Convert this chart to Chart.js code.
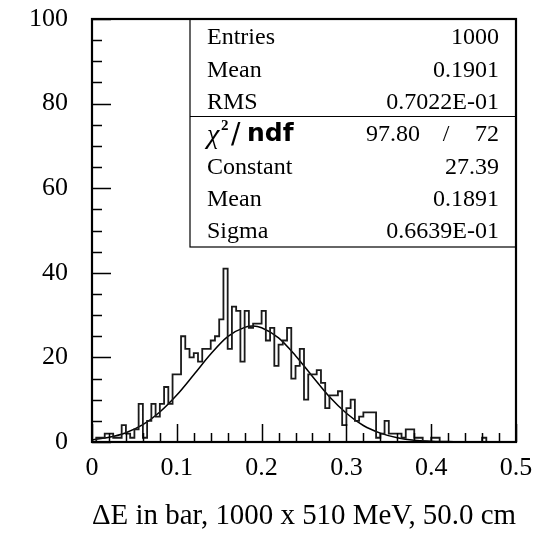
<!DOCTYPE html>
<html>
<head>
<meta charset="utf-8">
<script src="https://cdn.jsdelivr.net/npm/chart.js@4.4.1/dist/chart.umd.min.js"></script>
<style>
  html, body { margin: 0; padding: 0; background: #fff; }
  #chart { display: block; background: #fff; }
</style>
</head>
<body>
<canvas id="chart" width="535" height="535"></canvas>
<script>
// histogram: 100 bins of 0.005 between 0 and 0.5
const binStart = 0;
const binWidth = 0.005;
const binCounts = [
  0, 1, 1, 2, 2, 1, 1, 4, 2, 1,
  3, 9, 1, 5, 9, 6, 9, 13, 9, 16,
  16, 25, 22, 20, 21, 19, 22, 22, 24, 25,
  29, 41, 22, 32, 31, 19, 31, 27, 28, 28,
  31, 24, 27, 18, 23, 24, 27, 15, 18, 22,
  10, 16, 16, 17, 14, 8, 11, 11, 12, 4,
  8, 10, 5, 6, 7, 7, 7, 1, 2, 5,
  2, 2, 2, 1, 3, 3, 1, 1, 0, 0,
  1, 1, 0, 0, 0, 0, 0, 0, 0, 0,
  0, 0, 1, 0, 0, 0, 0, 0, 0, 0
];

// gaussian fit curve
const fitX = [0, 0.02, 0.04, 0.06, 0.08, 0.10, 0.12, 0.14, 0.16, 0.18, 0.19, 0.20, 0.22,
              0.24, 0.26, 0.28, 0.30, 0.32, 0.34, 0.36, 0.38, 0.40, 0.42, 0.44, 0.46, 0.48, 0.50];
const fitY = [0.5, 1.1, 2.2, 4.1, 7.1, 11.1, 15.9, 20.8, 24.9, 27.1, 27.4, 27.0, 24.6,
              20.4, 15.5, 10.7, 6.8, 3.9, 2.1, 1.0, 0.4, 0.2, 0.1, 0, 0, 0, 0];

const xTickValues = [0, 0.1, 0.2, 0.3, 0.4, 0.5];
const xTickLabels = ['0', '0.1', '0.2', '0.3', '0.4', '0.5'];
const yTickValues = [0, 20, 40, 60, 80, 100];
const yTickLabels = ['0', '20', '40', '60', '80', '100'];
const xTitle = 'ΔE in bar, 1000 x 510 MeV, 50.0 cm';

// stats box
const statNames = ['Entries', 'Mean', 'RMS'];
const statValues = ['1000', '0.1901', '0.7022E-01'];
const chi2 = '97.80';
const ndf = '72';
const fitNames = ['Constant', 'Mean', 'Sigma'];
const fitValues = ['27.39', '0.1891', '0.6639E-01'];

const serif = "'Liberation Serif', 'Times New Roman', serif";

// one point per bin low edge, plus the closing upper edge
const histPoints = binCounts.map((c, i) => ({ x: binStart + i * binWidth, y: c }));
histPoints.push({ x: binStart + binCounts.length * binWidth, y: binCounts[binCounts.length - 1] });
const fitPoints = fitX.map((x, i) => ({ x: x, y: fitY[i] }));

// ROOT style frame, inward ticks and the stats panel
const rootFrame = {
  id: 'rootFrame',
  afterDatasetsDraw(chart) {
    const { ctx, chartArea: a, scales: { x, y } } = chart;
    ctx.save();
    ctx.strokeStyle = '#000';
    ctx.lineWidth = 1.5;
    ctx.beginPath();
    for (let v = 0; v <= 100; v += 5) {
      const py = Math.round(y.getPixelForValue(v)) + 0.5;
      const len = v % 20 === 0 ? 19 : 10;
      ctx.moveTo(a.left, py);
      ctx.lineTo(a.left + len, py);
    }
    for (let i = 0; i <= 25; i++) {
      const px = Math.round(x.getPixelForValue(i * 0.02)) + 0.5;
      const len = i % 5 === 0 ? 18 : 9;
      ctx.moveTo(px, a.bottom);
      ctx.lineTo(px, a.bottom - len);
    }
    ctx.stroke();

    // stats box
    const bl = 190, bt = a.top, br = a.right, bb = 247;
    ctx.fillStyle = '#fff';
    ctx.fillRect(bl, bt, br - bl, bb - bt);
    ctx.lineWidth = 1.2;
    ctx.strokeRect(bl, bt, br - bl, bb - bt);
    ctx.beginPath();
    ctx.moveTo(bl, 116.5);
    ctx.lineTo(br, 116.5);
    ctx.stroke();

    const lx = 207, rx = 499, row = 32.3, base0 = 44.4;
    ctx.fillStyle = '#000';
    ctx.font = '24px ' + serif;
    ctx.textBaseline = 'alphabetic';
    statNames.forEach((n, i) => {
      ctx.textAlign = 'left';
      ctx.fillText(n, lx, base0 + i * row);
      ctx.textAlign = 'right';
      ctx.fillText(statValues[i], rx, base0 + i * row);
    });
    fitNames.forEach((n, i) => {
      const by = base0 + (i + 4) * row;
      ctx.textAlign = 'left';
      ctx.fillText(n, lx, by);
      ctx.textAlign = 'right';
      ctx.fillText(fitValues[i], rx, by);
    });

    // chi2 / ndf row
    const cy = base0 + 3 * row;
    ctx.textAlign = 'left';
    ctx.font = 'italic 28px ' + serif;
    ctx.fillText('χ', lx, cy + 2);
    ctx.font = 'bold 15px ' + serif;
    ctx.fillText('2', 221, cy - 11);
    ctx.font = '28px "DejaVu Sans", sans-serif';
    ctx.fillText('/', 231, cy + 2);
    ctx.font = '600 25px "DejaVu Sans", sans-serif';
    ctx.fillText('ndf', 247, cy);
    ctx.font = '24px ' + serif;
    ctx.textAlign = 'right';
    ctx.fillText(chi2, 420, cy);
    ctx.fillText(ndf, rx, cy);
    ctx.textAlign = 'center';
    ctx.fillText('/', 446, cy);

    // outer frame
    ctx.lineWidth = 2.2;
    ctx.strokeRect(a.left, a.top, a.right - a.left, a.bottom - a.top);
    ctx.restore();
  }
};

new Chart(document.getElementById('chart'), {
  type: 'line',
  data: {
    datasets: [
      {
        data: histPoints,
        stepped: 'before',
        borderColor: '#1a1a1a',
        borderWidth: 1.8,
        pointRadius: 0,
        fill: false
      },
      {
        data: fitPoints,
        cubicInterpolationMode: 'monotone',
        borderColor: '#000',
        borderWidth: 1.5,
        pointRadius: 0,
        fill: false
      }
    ]
  },
  options: {
    responsive: false,
    animation: false,
    devicePixelRatio: 1,
    layout: { padding: { top: 19, right: 19, left: 0, bottom: 0 } },
    plugins: {
      legend: { display: false },
      tooltip: { enabled: false }
    },
    scales: {
      x: {
        type: 'linear',
        min: 0,
        max: 0.5,
        afterBuildTicks: (scale) => { scale.ticks = xTickValues.map(v => ({ value: v })); },
        afterFit: (scale) => {
          scale.height = 93;
          scale.paddingLeft = 0;
          scale.paddingRight = 0;
        },
        grid: { display: false, drawTicks: false },
        border: { display: false },
        ticks: {
          padding: 11,
          color: '#000',
          font: { family: serif, size: 26 },
          maxRotation: 0,
          callback: (v) => xTickLabels[xTickValues.indexOf(v)]
        },
        title: {
          display: true,
          text: xTitle,
          color: '#000',
          font: { family: serif, size: 30 },
          padding: { top: 0, bottom: 1 }
        }
      },
      y: {
        type: 'linear',
        min: 0,
        max: 100,
        afterBuildTicks: (scale) => { scale.ticks = yTickValues.map(v => ({ value: v })); },
        afterFit: (scale) => {
          scale.width = 92;
          scale.paddingTop = 0;
          scale.paddingBottom = 0;
        },
        grid: { display: false, drawTicks: false },
        border: { display: false },
        ticks: {
          padding: 24,
          color: '#000',
          font: { family: serif, size: 26 },
          callback: (v) => yTickLabels[yTickValues.indexOf(v)]
        }
      }
    }
  },
  plugins: [rootFrame]
});
</script>
</body>
</html>
